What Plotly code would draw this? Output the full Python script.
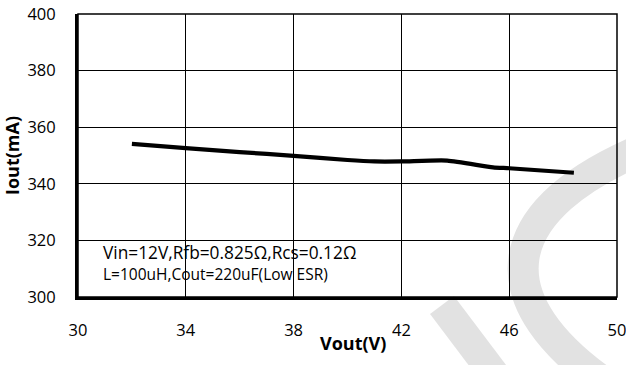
import plotly.graph_objects as go

vout = [32.0, 34.0, 36.0, 38.0, 40.0, 41.0, 42.0, 43.7, 45.4, 46.0, 48.4]
iout = [354.1, 352.6, 351.2, 349.9, 348.4, 347.9, 347.9, 348.2, 345.8, 345.5, 343.9]
x_ticks = [30, 34, 38, 42, 46, 50]
y_ticks = [300, 320, 340, 360, 380, 400]
note_lines = ["Vin=12V,Rfb=0.825Ω,Rcs=0.12Ω", "L=100uH,Cout=220uF(Low ESR)"]
x_title = "Vout(V)"
y_title = "Iout(mA)"

W, H = 626, 365
L, R, T, B = 78, 9, 14, 68
PW, PH = W - L - R, H - T - B


def px(x):
    return (x - L) / PW


def py(y):
    return (H - B - y) / PH


FONT = "Open Sans"
fig = go.Figure()
fig.add_trace(go.Scatter(
    x=vout, y=iout, mode="lines",
    line=dict(color="black", width=4.2, shape="spline", smoothing=0.6),
    hoverinfo="skip", showlegend=False,
))

shapes = [
    # watermark arc
    dict(type="path", xref="paper", yref="paper", layer="below",
         path=f"M {px(652)},{py(145)} C {px(495)},{py(208)} {px(480)},{py(300)} {px(615)},{py(390)}",
         line=dict(color="#e2e2e2", width=31)),
    dict(type="line", xref="paper", yref="paper", layer="below",
         x0=px(442), y0=py(305), x1=px(525), y1=py(415),
         line=dict(color="#e2e2e2", width=30)),
    # note box covering grid
    dict(type="rect", xref="paper", yref="paper", layer="between",
         x0=px(87), x1=px(380), y0=py(292), y1=py(231),
         fillcolor="white", line=dict(width=0)),
    # frame top/right thin
    dict(type="rect", xref="paper", yref="paper", layer="above",
         x0=0, x1=1, y0=0, y1=1, line=dict(color="black", width=1.5)),
]

annotations = [
    dict(text=note_lines[0], xref="paper", yref="paper", x=px(101), y=py(252),
         xanchor="left", yanchor="middle", showarrow=False,
         font=dict(family=FONT, size=17.3, color="black")),
    dict(text=note_lines[1], xref="paper", yref="paper", x=px(101), y=py(273.5),
         xanchor="left", yanchor="middle", showarrow=False,
         font=dict(family=FONT, size=15.5, color="black")),
    dict(text=f"<b>{x_title}</b>", xref="paper", yref="paper", x=px(353), y=py(343),
         xanchor="center", yanchor="middle", showarrow=False,
         font=dict(family=FONT, size=18, color="black")),
]

fig.update_layout(
    width=W, height=H,
    margin=dict(l=L, r=R, t=T, b=B, pad=0),
    paper_bgcolor="rgba(0,0,0,0)", plot_bgcolor="rgba(0,0,0,0)",
    shapes=shapes, annotations=annotations,
    font=dict(family=FONT, size=16, color="black"),
    xaxis=dict(range=[30, 50], tickvals=x_ticks, ticktext=[str(v) for v in x_ticks],
               showgrid=True, gridcolor="black", gridwidth=1.3,
               showline=True, linecolor="black", linewidth=3, mirror=False,
               zeroline=False, ticks="", ticklabelstandoff=16, automargin=False,
               ticklabeloverflow="allow",
               tickfont=dict(family=FONT, size=16.5)),
    yaxis=dict(range=[300, 400], tickvals=y_ticks, ticktext=[str(v) for v in y_ticks],
               showgrid=True, gridcolor="black", gridwidth=1.3,
               showline=True, linecolor="black", linewidth=3, mirror=False,
               zeroline=False, ticks="", ticklabelstandoff=16, automargin=False,
               tickfont=dict(family=FONT, size=16.5),
               title=dict(text=f"<b>{y_title}</b>", font=dict(family=FONT, size=18), standoff=10)),
)

fig.write_html("out.html")
